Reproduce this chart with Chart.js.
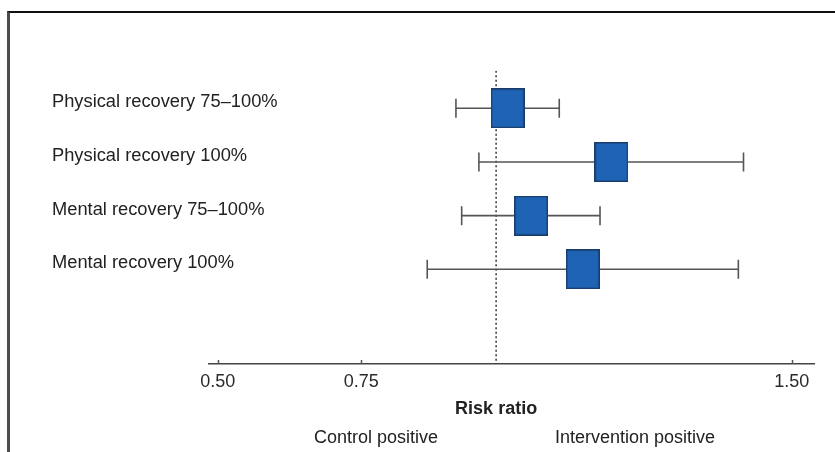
<!DOCTYPE html>
<html>
<head>
<meta charset="utf-8">
<script src="https://cdn.jsdelivr.net/npm/chart.js@4"></script>
<style>
  html, body { margin: 0; background: #fff; }
  #wrap { position: relative; width: 835px; height: 452px; overflow: hidden; }
  #frame { position: absolute; left: 7px; top: 11px; width: 900px; height: 500px;
           border-left: 3px solid #4d4d4d; border-top: 2px solid #111; pointer-events: none; }
</style>
</head>
<body>
<div id="wrap">
  <canvas id="forest"></canvas>
  <div id="frame"></div>
</div>
<script>
const outcomes = ['Physical recovery 75–100%', 'Physical recovery 100%', 'Mental recovery 75–100%', 'Mental recovery 100%'];
const riskRatio = [1.005, 1.186, 1.046, 1.136];
const ciLower = [0.915, 0.955, 0.925, 0.865];
const ciUpper = [1.095, 1.416, 1.166, 1.407];
const xTicks = [0.5, 0.75, 1.5];
const nullLine = 0.985;
const axisTitle = 'Risk ratio';
const sideLabels = ['Control positive', 'Intervention positive'];

const FONT = '"Liberation Sans", Arial, sans-serif';
Chart.defaults.font.family = FONT;

const X_MIN = 0.4848, X_MAX = 1.5388;
const Y_MIN = 0.3, Y_MAX = 5.764;

// the blue squares are drawn as an image point style
function makeBox(w, h) {
  const c = document.createElement('canvas');
  c.width = w; c.height = h;
  const g = c.getContext('2d');
  g.fillStyle = '#1f64b4';
  g.fillRect(0, 0, w, h);
  g.strokeStyle = '#1a3c6c';
  g.lineWidth = 1.5;
  g.strokeRect(0.75, 0.75, w - 1.5, h - 1.5);
  return c;
}
const boxImg = makeBox(34, 40);

const whiskers = outcomes.map((o, i) => ({
  label: o,
  data: [{ x: ciLower[i], y: i + 1 }, { x: ciUpper[i], y: i + 1 }],
  showLine: true,
  borderColor: '#555',
  borderWidth: 1.6,
  pointStyle: 'line',
  pointRotation: 90,
  pointRadius: 9.5,
  pointBorderColor: '#555',
  pointBorderWidth: 1.6,
  order: 2
}));

const refLine = {
  label: 'null',
  data: [{ x: nullLine, y: Y_MIN }, { x: nullLine, y: Y_MAX }],
  showLine: true,
  borderColor: '#333',
  borderWidth: 1.5,
  borderDash: [2, 2.5],
  pointRadius: 0,
  order: 3
};

const boxes = {
  label: 'RR',
  data: riskRatio.map((v, i) => ({ x: v, y: i + 1 })),
  pointStyle: boxImg,
  pointRadius: 20,
  order: 0
};

// tick marks point up into the plot, plus the texts under the axis
const axisExtras = {
  id: 'axisExtras',
  afterDraw(chart) {
    const ctx = chart.ctx;
    const xs = chart.scales.x;
    ctx.save();
    ctx.strokeStyle = '#555';
    ctx.lineWidth = 1.5;
    xTicks.forEach(v => {
      const px = Math.round(xs.getPixelForValue(v)) + 0.5;
      ctx.beginPath();
      ctx.moveTo(px, xs.top);
      ctx.lineTo(px, xs.top - 4);
      ctx.stroke();
    });
    const cx = xs.getPixelForValue(nullLine);
    ctx.fillStyle = '#222';
    ctx.textAlign = 'center';
    ctx.textBaseline = 'alphabetic';
    ctx.font = 'bold 18px ' + FONT;
    ctx.fillText(axisTitle, cx, 413.5);
    ctx.font = '18px ' + FONT;
    ctx.fillText(sideLabels[0], 376, 443);
    ctx.fillText(sideLabels[1], 635, 443);
    ctx.restore();
  }
};

new Chart(document.getElementById('forest'), {
  type: 'scatter',
  data: { datasets: [refLine, ...whiskers, boxes] },
  options: {
    responsive: true,
    maintainAspectRatio: false,
    animation: false,
    layout: { padding: { left: 52, top: 70.7, right: 15, bottom: 28 } },
    plugins: { legend: { display: false }, tooltip: { enabled: false } },
    scales: {
      x: {
        type: 'linear',
        min: X_MIN,
        max: X_MAX,
        afterBuildTicks: s => { s.ticks = xTicks.map(v => ({ value: v })); },
        afterFit: s => { s.height = 60; s.paddingLeft = 0; s.paddingRight = 0; },
        ticks: {
          callback: v => Number(v).toFixed(2),
          font: { size: 18 },
          color: '#2a2a2a',
          padding: 7,
          maxRotation: 0,
          autoSkip: false
        },
        grid: { display: false, drawTicks: false, tickLength: 0 },
        border: { display: true, color: '#444', width: 1.5 }
      },
      y: {
        type: 'linear',
        reverse: true,
        min: Y_MIN,
        max: Y_MAX,
        afterBuildTicks: s => { s.ticks = outcomes.map((_, i) => ({ value: i + 1 })); },
        afterFit: s => { s.width = 157; },
        ticks: {
          callback: v => outcomes[v - 1],
          mirror: true,
          padding: -157,
          font: { size: 18.3 },
          color: '#222',
          labelOffset: -6,
          autoSkip: false
        },
        grid: { display: false },
        border: { display: false }
      }
    }
  },
  plugins: [axisExtras]
});
</script>
</body>
</html>
